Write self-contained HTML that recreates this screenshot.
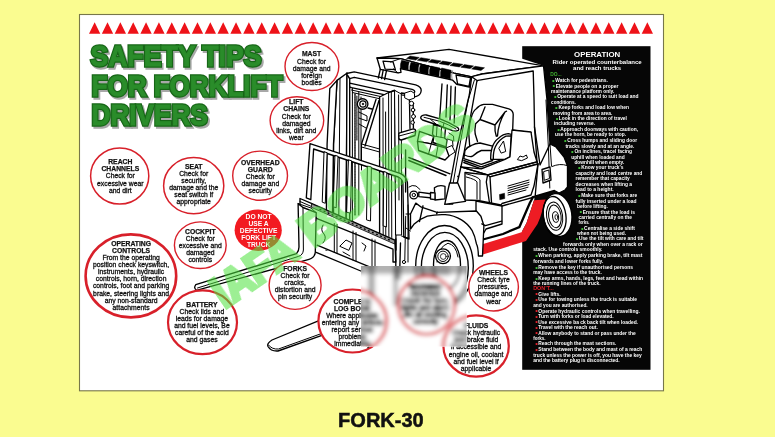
<!DOCTYPE html>
<html lang="en"><head><meta charset="utf-8"><title>Safety Tips for Forklift Drivers - FORK-30</title>
<style>
html,body{margin:0;padding:0;background:#fafc90;}
body{width:775px;height:437px;overflow:hidden;font-family:"Liberation Sans", Arial, sans-serif;}
svg{display:block;will-change:transform;filter:blur(0.4px)}
text{font-family:"Liberation Sans", Arial, sans-serif;}
.ct{font-size:6.8px;text-anchor:middle;fill:#111;stroke:#111;stroke-width:0.3px}
.cb{font-weight:bold;stroke-width:0.25px}
.ring{fill:#fff;stroke:#d8202a;}
.pt{font-size:5.3px;font-weight:bold;fill:#fff}
.ph{font-weight:bold;fill:#fff}
.ttl{font-weight:bold;font-size:29px;fill:#176617;stroke:#176617;stroke-width:3.4px;stroke-linejoin:miter;stroke-miterlimit:3}
.ttls{font-weight:bold;font-size:29px;fill:#a8a8a8;stroke:#a8a8a8;stroke-width:3.4px;stroke-linejoin:miter;stroke-miterlimit:3}
.ttlh{font-weight:bold;font-size:29px;fill:#2a8c2a;stroke:#2a8c2a;stroke-width:0.9px}
.fk{fill:none;stroke:#000;stroke-width:1.35;stroke-linejoin:round;stroke-linecap:round}
.fw{fill:#fff;stroke:#000;stroke-width:1.35;stroke-linejoin:round;stroke-linecap:round}
.fn{fill:#fff;stroke:none}
.th{stroke-width:1.0}
.bk{fill:#000;stroke:#000;stroke-width:0.5;stroke-linejoin:round}
.rd{fill:#ee1c24;stroke:none}
</style></head><body>
<svg width="775" height="437" viewBox="0 0 775 437">
<defs><filter id="blur" x="-10%" y="-10%" width="120%" height="120%"><feGaussianBlur stdDeviation="2.0"/><feComponentTransfer><feFuncR type="linear" slope="1.3" intercept="-0.3"/><feFuncG type="linear" slope="1.3" intercept="-0.3"/><feFuncB type="linear" slope="1.3" intercept="-0.3"/></feComponentTransfer></filter><clipPath id="blurclip"><rect x="361" y="266" width="105.6" height="80.6"/></clipPath></defs>
<rect x="0" y="0" width="775" height="437" fill="#fafc90"/>
<rect x="79.5" y="14.5" width="584" height="376.3" fill="#ffffff" stroke="#77774a" stroke-width="1.1"/>
<path d="M89.00 33.8L94.65 22.2L100.30 33.8ZM101.85 33.8L107.50 22.2L113.15 33.8ZM114.71 33.8L120.36 22.2L126.01 33.8ZM127.56 33.8L133.21 22.2L138.86 33.8ZM140.41 33.8L146.06 22.2L151.71 33.8ZM153.27 33.8L158.92 22.2L164.57 33.8ZM166.12 33.8L171.77 22.2L177.42 33.8ZM178.97 33.8L184.62 22.2L190.27 33.8ZM191.83 33.8L197.48 22.2L203.13 33.8ZM204.68 33.8L210.33 22.2L215.98 33.8ZM217.53 33.8L223.18 22.2L228.83 33.8ZM230.39 33.8L236.04 22.2L241.69 33.8ZM243.24 33.8L248.89 22.2L254.54 33.8ZM256.10 33.8L261.75 22.2L267.40 33.8ZM268.95 33.8L274.60 22.2L280.25 33.8ZM281.80 33.8L287.45 22.2L293.10 33.8ZM294.66 33.8L300.31 22.2L305.96 33.8ZM307.51 33.8L313.16 22.2L318.81 33.8ZM320.36 33.8L326.01 22.2L331.66 33.8ZM333.22 33.8L338.87 22.2L344.52 33.8ZM346.07 33.8L351.72 22.2L357.37 33.8ZM358.92 33.8L364.57 22.2L370.22 33.8ZM371.78 33.8L377.43 22.2L383.08 33.8ZM384.63 33.8L390.28 22.2L395.93 33.8ZM397.48 33.8L403.13 22.2L408.78 33.8ZM410.34 33.8L415.99 22.2L421.64 33.8ZM423.19 33.8L428.84 22.2L434.49 33.8ZM436.04 33.8L441.69 22.2L447.34 33.8ZM448.90 33.8L454.55 22.2L460.20 33.8ZM461.75 33.8L467.40 22.2L473.05 33.8ZM474.60 33.8L480.25 22.2L485.90 33.8ZM487.46 33.8L493.11 22.2L498.76 33.8ZM500.31 33.8L505.96 22.2L511.61 33.8ZM513.17 33.8L518.82 22.2L524.47 33.8ZM526.02 33.8L531.67 22.2L537.32 33.8ZM538.87 33.8L544.52 22.2L550.17 33.8ZM551.73 33.8L557.38 22.2L563.03 33.8ZM564.58 33.8L570.23 22.2L575.88 33.8ZM577.43 33.8L583.08 22.2L588.73 33.8ZM590.29 33.8L595.94 22.2L601.59 33.8ZM603.14 33.8L608.79 22.2L614.44 33.8ZM615.99 33.8L621.64 22.2L627.29 33.8ZM628.85 33.8L634.50 22.2L640.15 33.8ZM641.70 33.8L647.35 22.2L653.00 33.8Z" fill="#ee1218"/>
<rect x="522.2" y="46.2" width="128.3" height="323.6" fill="#060606"/>
<!-- ================= FORKLIFT LINE ART ================= -->
<g id="forklift">
<!-- white silhouette over black panel -->
<path class="fn" d="M520 58 L543.5 65.8 L547 100 L548.7 127 L550 144 L556 147 L564 157 L567.5 166 L567.5 187 L565 190 L559 193 L554.4 190.5 L535.5 196 L534 200.2 L526.5 223 L521.5 232.2 L520 234 Z"/>
<!-- ===== overhead guard ===== -->
<g id="guard">
<path class="fw" d="M377 58 L449 49.3 L543.5 65.8 L482 74 L472 76.8 L454 73.2 L400.5 58.6 Z"/>
<!-- side rail -->
<path class="fw" d="M482 74 L543.5 65.8 L547 100 L548.7 127 L550 144 L540 165 L534.5 127 L534 98 L533.2 71 L478 80.3 L473 83 L471.7 76.7 Z"/>
<!-- front band -->
<path class="fw" d="M377 58 L400.5 58.6 L454 73.2 L470.5 76.7 L469.3 87.2 L456.6 84.3 L452.5 80 L400.4 68.6 L401 72.3 L397.9 72.9 L380.3 69.3 Z"/>
<!-- left lamp -->
<path class="fw" style="stroke-width:1.3" d="M383 61.2 L393 61.8 L395.4 69.6 L385.2 69.2 Z"/>
<path class="fk th" d="M390.6 62 L400.5 58.6 M393.2 68.7 L397.9 72.9"/>
<!-- right lamp -->
<path class="fw" style="stroke-width:1.3" d="M456 75 L470.5 77.6 L469 86.3 L457.6 83.8 Z"/>
<!-- louvers -->
<path class="bk" d="M401.6 60.2 Q400 64 400.4 68.4 L408.2 69.9 Q408 65 409.2 61.9 Z"/>
<path class="bk" d="M411 62.2 Q409.4 66 409.8 70.4 L418.2 72.1 Q418 67 419.2 63.9 Z"/>
<path class="bk" d="M420.6 64.2 Q419 68 419.6 72.5 L428.2 74.4 Q428 69 429.2 65.8 Z"/>
<path class="bk" d="M430.6 66 Q429 70 429.6 74.7 L439 76.6 Q439 71.5 440 68 Z"/>
<path class="bk" d="M441.6 68 Q440 72 440.6 77 L450.3 79 Q450.2 74 451.2 70.3 Z"/>
<path class="fk th" style="stroke:#888" d="M452.5 70.8 Q451 75 452 79.6"/>
<!-- top grille -->
<path class="bk" d="M410.0 56.0 L419.3 57.5 L415.8 60.1 L406.5 58.6 Z M420.9 57.7 L430.2 59.2 L426.7 61.8 L417.4 60.3 Z M431.7 59.4 L441.1 60.9 L437.6 63.5 L428.2 62.0 Z M442.6 61.1 L451.9 62.6 L448.4 65.2 L439.1 63.7 Z M453.4 62.9 L462.8 64.3 L459.3 66.9 L449.9 65.5 Z M464.3 64.6 L473.6 66.0 L470.1 68.6 L460.8 67.2 Z M475.1 66.3 L484.5 67.8 L481.0 70.4 L471.6 68.9 Z"/>
</g>

<!-- ===== mast ===== -->
<g id="mast">
<!-- left outer faces -->
<path class="fw" d="M337 80.4 L346.5 73.5 L347 73.1 L346 250 L333.5 250 L333.5 144 Z"/>
<path class="fw" d="M329.8 88.5 L337 80.4 L333.5 144 L332 250 L326 250 L327.1 144 Z"/>
<path class="fk th" d="M340 79 L338.5 250"/>
<!-- front face of left upright -->
<path class="fw" d="M347 73.1 L349.7 78.6 L349.7 250 L346 250 Z"/>
<!-- inner left channel + chain -->
<path class="fk th" d="M352.4 88 L352.4 250 M358.8 92 L358.8 215 M361 97 L361 160"/>
<path class="fk" style="stroke-width:1.4;stroke-dasharray:0.9 0.7" d="M355 94 L355 215"/>
<path class="fk" style="stroke-width:1.1;stroke-dasharray:0.8 0.8" d="M356.9 96 L356.9 140"/>
<!-- top tube -->
<path class="fw" d="M346.5 73.5 L354.2 71.9 L415.7 84.9 Q421.6 87 421.2 90.8 Q420.6 95.6 415.7 96.6 L401.3 94.8 L401.3 93 L410 94.2 Q413.6 94 414.5 92.5 Q415.5 90.5 412.1 89.4 L354.2 77.3 L349.7 78.6 Z"/>
<!-- crossbar under top tube -->
<path class="fw" d="M349.7 83.1 L390.4 92.1 L394 90.3 L394 93 L388.6 95.7 L351.5 87.6 L349.7 87 Z"/>
<path class="fk th" d="M351.5 90 L380 96.4 M352.4 92.5 L379 98.6"/>
<!-- pulley -->
<circle class="fw" cx="362.6" cy="104" r="5.3"/>
<circle class="fk" cx="362.9" cy="104" r="3.1" style="stroke-width:1.2"/>
<circle class="bk" cx="363" cy="104" r="0.9"/>
<!-- diagonal brace -->
<path class="fk" d="M376 99.5 L361.5 144 M379 100.5 L365 146 M368 108 L372 109"/>
<path class="fk th" d="M358.8 112 L367 116 L367 121 L358.8 118 M359 124 L366 128 M361.5 144 L379.6 149 M361.5 147 L379.6 152 M361.5 144 L361.5 170"/>
<!-- right upright -->
<path class="fw" d="M379.6 97 L388.6 92.5 L394.9 90.5 L396 250 L379.6 250 Z"/>
<path class="fk th" d="M388.6 93 L388.9 250 M391.3 92 L391.8 250 M383 98 L383.2 250 M385.6 112 L385.8 250"/>
<path class="fw th" d="M394.9 90.5 L401.3 94 L401.6 235 L396 235 Z"/>
<path class="fk th" d="M398.6 95 L399 200"/>
</g>
<!-- ===== load backrest ===== -->
<g id="backrest">
<path class="fw" d="M306.3 197.9 L310 143.6 L400 173.3 Q406 175.8 407.4 182.4 L409 239 L403.8 237 L402.9 183.3 Q402.5 178.8 398.3 177 L313.6 149 L310.8 199.7 Z"/>
<g class="fw th">
<path d="M324.4 151.8 L327.1 152.7 L325.3 203.3 L322.6 202.3 Z"/>
<path d="M335.3 155.4 L338 156.3 L336.2 207.8 L333.5 206.9 Z"/>
<path d="M348.8 159.9 L351.5 160.8 L350.6 213.2 L347 212.3 Z"/>
<path d="M367.8 166.2 L371.4 167.1 L370.5 221 L366.9 220 Z"/>
<path d="M384.1 171.6 L386.8 172.5 L386.4 227 L383.5 226 Z"/>
</g>
</g>
<!-- ===== carriage ===== -->
<g id="carriage">
<path class="fn" d="M316.2 212.7 L394.9 238.9 L395.8 279 L369.6 268 L317.1 246.2 Z"/>
<path class="fn" d="M300 250 L395 262 L395 285 L300 285 Z"/>
<path class="fw" d="M300 198.5 L310.8 203.2 L394.9 240.2 L395.8 262 L393 262 L393 249.2 L317.1 218.6 L310.8 213.3 L300 208.5 Z"/>
<path d="M311.5 203.8 L394.6 240.4 L394.6 244 L311.5 207.4 Z" fill="#9c9c9c" stroke="#000" stroke-width="0.8"/>
<path class="fk th" d="M300 201.5 L310.8 206.2"/>
<path class="fk" style="stroke-width:1.3;stroke-dasharray:1 3.4" d="M320 209.4 L392 241.1"/>
<!-- verticals of carriage -->
<path class="fk th" d="M334.3 223.5 L334.3 252.4 M337 224.4 L337 253.3 M353 231 L353 260 M356 232.5 L356 261 M372 239 L372 266 M375 240 L375 266"/>
<!-- lower bar -->
<path class="fk" d="M317.1 245.2 L369.6 266.9 M316.2 252.4 L362 271.5 M395.8 238.9 L395.8 279 M400.5 243 L399.5 279"/>
<!-- small mechanisms -->
<path class="fk th" d="M340 246 L346 240 L352 243 L349 250 Z M343 252 L350 256 M362 243 L366 246 L364 251 M323 225 Q320 230 324 234 Q327 238 323 243"/>
<!-- hose -->
<path class="fk th" d="M405.7 216.3 L404.8 259.7"/>
<circle class="fk th" cx="404" cy="262" r="1.6"/>
</g>
<!-- ===== forks ===== -->
<g id="forks">
<!-- left fork shank -->
<path class="fw" d="M298.1 203.6 L303 207.5 L316.2 212.7 L315.3 252.4 Q314.5 258 309 259.3 L196.5 290.3 Q193.3 288 195.8 284.6 L296.5 253.6 Q299 251 299 247 Z"/>
<path class="fk th" d="M303 207.5 L303.4 250 Q303 255 298.5 256.4 L197.5 288 M298.1 203.6 L311 208 L316.2 212.7"/>
<!-- right fork blade -->
<path class="fw" d="M322 319.4 L272 340 Q266.5 343.5 268 346.5 Q271 351.5 278 351 L324 334.6 Z"/>
<path class="fk th" d="M268.5 345 Q272 349.6 278.5 349 L323 333"/>
</g>

<!-- ===== cab interior ===== -->
<g id="cab">
<!-- left-front legs of guard -->
<path class="fk" d="M380.3 69.3 L378.3 78 M386.5 70.6 L384.6 79.5 M383.2 70 L381.6 78.6"/>
<!-- rear-left leg -->
<path class="fk" d="M442 84 L439.7 118 M447.3 85 L446 117 M455.4 87 L454.2 123 M451 86.2 L450 120"/>
<!-- hood/ledge behind seat -->
<path class="fk th" d="M513.2 130 L531.3 132.5 M513.2 133.6 L531.3 137 M512.6 138 L531 143 M512 141 L531 146.4 M511.5 146.5 L532 152"/>
<!-- seat backrest -->
<path class="fw" d="M468.8 134 Q469.5 122 471.3 117.5 Q473 111 476.3 108.8 Q479.5 105 483.8 104.4 L492.5 104.4 L508.8 108.8 Q513.5 110.5 513.2 115 L512.6 132.5 L510 152 L470 150 Z"/>
<path class="fk" d="M485 107 L480 119.5 L475.6 123.8 Q474.5 130 475.2 134 L477.5 141.5 M480 119.5 L495 125 L505 112 L506.5 111.2 M495 125 Q494.5 131 496.3 136.3 M505 112 Q498 124 497.5 136"/>
<!-- seat cushion -->
<path class="fw" d="M465 150.5 Q467 147 471.3 145.5 Q475.5 143.2 480 143 L492.6 146.1 L492.6 160.5 L481.3 164.3 L463.8 158.7 Z"/>
<path class="fk" d="M464.4 155 Q470 157.5 472.5 156.2 Q477 152 481.3 150.5 L492.5 150.5"/>
<path class="fk" d="M463.8 160.5 L481.3 166.8 L507.6 157.4 M463.8 162.5 L481.3 168.8 L507 159.8"/>
<!-- armrest -->
<path class="fw" d="M490.7 159.3 Q490.5 153 492 148 Q494 141.5 498.8 138 Q503 134 508.2 133.6 L511.3 134.3 L510 156.8 L505 159.3 Z"/>
<path class="fk" d="M493.3 158.8 Q493.2 151 495.5 146.5 Q499 139.5 506 136.2 L510.9 136"/>
<path class="fk th" d="M499 148 L503.5 141 L505.7 151.5 L501.5 153 Z"/>
<!-- steering wheel -->
<path class="fw" d="M420.7 117.2 Q422 114.6 426.3 115 L440 118.8 Q450 122.5 457.6 127.5 Q459.5 129.4 458.2 130.4 Q456 131.6 452.6 130.7 L437.6 125 L422.5 120 Q420.3 118.8 420.7 117.2 Z"/>
<path class="fk th" d="M424 117.3 L439.5 121.2 Q449 124.6 456 129 M430.5 119.3 L436 124 M444 123 L443 127"/>
<!-- column + dash -->
<path class="fw" d="M433.5 124 L445.5 128.4 L444.6 138 L447 140 L446 147 L433 142.5 L433.8 136 L432.5 134 Z"/>
<path class="fk th" d="M433.8 136 L444.6 138 M437 126 L436.5 135.5 M441.5 127.4 L441 137"/>
<path class="fw" d="M419.5 131.3 L433.8 136.3 L431.3 143.8 L417.5 141.3 Z"/>
<path class="fw" d="M417.5 141.3 L431.3 143.8 L446 148 L449 156 L445 160 L418.6 150.5 Z"/>
<path class="fk th" d="M431.3 143.8 L428.5 154 M438 146 L436 156.5 M446 148 L452 145.5 L455 152 L449 156"/>
<path class="fk th" d="M447.5 139 L452.5 140.5 L453 146 M449 133 L453.5 136 L453.8 141"/>
<!-- mirror box and post on mast side -->
<path class="fw" d="M398.8 134.3 Q398.5 133 400.5 132.6 L413.2 128.8 Q415.7 128.8 415.7 131.3 L415 135.5 L401.3 140 Q398.8 140 398.8 137.5 Z"/>
<path class="fk th" d="M399 136 L414.8 131.8"/>
<path class="fk" d="M409.4 97 L410 128.5 M413.2 104 L413.4 128"/>
<path class="fw th" d="M405 93 L411 91 L414.5 93.5 L414.5 98 L409 100 L405 98 Z"/>
<circle class="fw th" cx="411.5" cy="103.5" r="2.2"/>
<circle class="fw th" cx="413" cy="110" r="1.8"/>
<circle class="fw th" cx="413.5" cy="116.5" r="2"/>
<circle class="fw th" cx="412.6" cy="122.5" r="1.8"/>
<!-- floor/dash line -->
<path class="fk" d="M405.6 150 L405.6 192 M408.8 157.5 L450 173.8 M408.8 160.5 L446 175.5"/>
<!-- front-right pillar (diagonal) -->
<path class="fw" d="M471.7 76.7 L477 80.5 L463.8 154 L452.6 204 L446.3 204 L456.3 150 L469.3 95 Z"/>
<path class="fk th" d="M474.4 80 L468.2 100 L458.6 152 L449.5 204"/>
<path class="fk" style="stroke-width:1;stroke-dasharray:0.8 6" d="M457.8 176 L454 197"/>
<!-- tilt cylinder -->
<path class="fw" d="M434.4 187.8 Q439 184.5 445 186.3 L445 198.8 L435 200 Z"/>
<path class="fw" d="M418.8 192.2 L432.5 194 L432.5 198 L418.8 196.6 Z"/>
<circle class="fw" cx="413.8" cy="195" r="3.9"/>
<circle class="fk th" cx="413.8" cy="195" r="1.7"/>
<path class="fw" d="M430.5 192.5 L435 192.8 L435 199.6 L430.5 199 Z"/>
<path class="fk th" d="M409 187 Q412 184.5 416 186 L420 189.5"/>
</g>

<!-- ===== body ===== -->
<g id="body">
<!-- hood top -->
<path class="fw" d="M460.7 166.8 L487.6 174.9 L537 161.8 L534 152 L531 132 L512 130 L510 156.8 L505 159.3 L481.3 168.8 Z"/>
<path class="fk" d="M460.7 166.8 L487.6 174.9 L537 161.8 M490 176.8 L538 164"/>
<path class="fk th" d="M517.6 159.3 L520 156 L523 157 L526.4 155 L527.5 158 L522 160.5 Z"/>
<!-- hood side + front -->
<path class="fw" d="M487.6 174.9 L490 176.8 L538 164 L534 186 L531 195 L502 203.5 L501 205 L478 200.5 L465 200 L465 172.5 Z"/>
<path class="fk" d="M487.6 174.9 L486.3 182 L489.5 203 M490 176.8 L491.5 202.5"/>
<path class="fk th" d="M466.3 173.8 Q479 177 480 180 L480 200 M466.3 177 Q476 179.5 477 182 L477 199"/>
<!-- vents -->
<path class="fk th" d="M508 186 L529 180 M508 188.3 L529 182.3 M508 190.6 L529 184.6 M508 192.9 L528 187.2 M508 195 L526 190"/>
<path class="bk" d="M499.5 194.5 L504.5 193.2 L504.8 198.5 L499.8 199.8 Z"/>
<!-- rear pillar lower + counterweight -->
<path class="fk" d="M534.5 127 L537 161.8 L538 164 L535 198 M550 144 L556 147 L564 157 L567.5 166 L567.5 187 L565 190 L559 193 L554.4 190.5 L532.2 197"/>
<path class="fk th" d="M550 144 L551.5 166 M546 100 L548.5 150 L549.8 188 M552 166.5 Q560 163 567 165.5"/>
<path class="fw" d="M542 169.5 L550 167 L551 180 L543 183 Z"/>
<path class="fk th" d="M544 171.5 L548.8 170 L549.5 178.5 L544.6 180.2 Z"/>
<!-- lower body -->
<path class="fw" d="M476 201 L502 206 L502 224 L486 229 L480.6 238.5 L476 236 Z"/>
<path class="fk" d="M502 206 L534.5 197"/>
<!-- stripes -->
<path d="M532.8 197.5 L529.8 203 L519.4 227 L503 234 L481 240" fill="none" stroke="#000" stroke-width="2.3" stroke-linejoin="miter"/>
<path class="rd" d="M534 200.2 L545.8 199.6 L540 218 L537.5 224 L526 241 L483 254.4 L481.6 244.6 L521.5 232.2 L526.5 223 Z"/>
</g>
<!-- ===== rear wheel ===== -->
<g id="rwheel">
<ellipse class="fw" cx="557.6" cy="215" rx="14.2" ry="21.6" transform="rotate(-8 557.6 215)"/>
<ellipse class="fk" cx="554.6" cy="216" rx="11.3" ry="19.6" transform="rotate(-8 554.6 216)"/>
<ellipse class="fk th" cx="554.6" cy="216.2" rx="8" ry="14.2" transform="rotate(-8 554.6 216.2)"/>
<ellipse class="fk th" cx="554.9" cy="216.4" rx="6.2" ry="11.4" transform="rotate(-8 554.9 216.4)"/>
<ellipse class="fk th" cx="555.6" cy="217" rx="3" ry="5.4" transform="rotate(-8 555.6 217)"/>
<ellipse class="fk th" cx="556.4" cy="217.2" rx="1.4" ry="2.6" transform="rotate(-8 556.4 217.2)" style="stroke-width:0.8"/>
</g>

<!-- ===== front wheel + fender ===== -->
<g id="fwheel">
<!-- tire tread (outer) -->
<ellipse class="fw" cx="444.5" cy="266" rx="28.8" ry="40.5"/>
<!-- tire face -->
<ellipse class="fw" cx="444.8" cy="268" rx="23.5" ry="35.7"/>
<ellipse class="fk" cx="447" cy="264.5" rx="13.5" ry="24"/>
<path class="fk th" d="M437 262 Q438 247 448 243.2 Q456 245 458 257"/>
<circle class="fw" cx="443" cy="256.3" r="7.4"/>
<circle class="fk th" cx="443" cy="256.3" r="5.2"/>
<circle class="fk th" cx="443.3" cy="256.5" r="2.9" style="stroke-width:0.8"/>
<!-- fender -->
<path class="fw" d="M415.8 203.1 L421.4 207.2 L437 212.4 L476.4 211 L480.9 216.2 L483.9 225.8 L482.5 256 L478.4 256 Q478.2 247 476.4 243.7 Q475 236 472 230.3 Q467.5 223.5 461.5 219.9 Q454 215.4 445.2 214.7 Q435.5 214.3 427.3 216.2 Q419.5 219 413.9 224.3 L410.5 229 L410.5 214 Z"/>
<path class="fk" d="M437.5 212.1 L436.6 213.9 M423 205.8 L419.5 221.5 M481.8 223.9 L485.4 225.7 L501.7 221.2"/>
<!-- pillar base -->
<path class="fw" d="M449.6 183 L444.7 204.3 L465.5 201.3 L457.8 183 Z"/>
<!-- chassis bits between mast and wheel -->
<path class="fk th" d="M408 205 L408 262 M410.5 214 L406 214 M406 228 L410.5 231 M401.5 236 L408 238"/>
</g>
</g>

<text class="ttls" transform="translate(92.10 67.50) scale(0.918 1)" x="0" y="0">SAFETY TIPS</text>
<text class="ttls" transform="translate(93.20 97.50) scale(0.898 1)" x="0" y="0">FOR FORKLIFT</text>
<text class="ttls" transform="translate(93.20 127.10) scale(0.903 1)" x="0" y="0">DRIVERS</text>
<text class="ttl" transform="translate(90.40 65.80) scale(0.918 1)" x="0" y="0">SAFETY TIPS</text>
<text class="ttl" transform="translate(91.50 95.80) scale(0.898 1)" x="0" y="0">FOR FORKLIFT</text>
<text class="ttl" transform="translate(91.50 125.40) scale(0.903 1)" x="0" y="0">DRIVERS</text>
<text class="ttlh" transform="translate(90.40 65.80) scale(0.918 1)" x="0" y="0">SAFETY TIPS</text>
<text class="ttlh" transform="translate(91.50 95.80) scale(0.898 1)" x="0" y="0">FOR FORKLIFT</text>
<text class="ttlh" transform="translate(91.50 125.40) scale(0.903 1)" x="0" y="0">DRIVERS</text>
<g id="c311">
<ellipse class="ring" cx="311.9" cy="66.5" rx="26.9" ry="24.0" stroke-width="1.4"/>
<text class="ct cb" x="311.6" y="56.0">MAST</text>
<text class="ct" x="311.6" y="64.0">Check for</text>
<text class="ct" x="311.6" y="71.0">damage and</text>
<text class="ct" x="311.6" y="78.0">foreign</text>
<text class="ct" x="311.6" y="85.0">bodies</text>
</g>
<g id="c296">
<ellipse class="ring" cx="296.9" cy="120.6" rx="26.8" ry="23.9" stroke-width="1.4"/>
<text class="ct cb" x="296.3" y="104.0">LIFT</text>
<text class="ct cb" x="296.3" y="111.0">CHAINS</text>
<text class="ct" x="296.3" y="119.0">Check for</text>
<text class="ct" x="296.3" y="126.0">damaged</text>
<text class="ct" x="296.3" y="133.0">links, dirt and</text>
<text class="ct" x="296.3" y="140.0">wear</text>
</g>
<g id="c119">
<ellipse class="ring" cx="119.7" cy="176.0" rx="29.1" ry="28.1" stroke-width="1.5"/>
<text class="ct cb" x="120.3" y="164.0">REACH</text>
<text class="ct cb" x="120.3" y="171.0">CHANNELS</text>
<text class="ct" x="120.3" y="178.0">Check for</text>
<text class="ct" x="120.3" y="186.0">excessive wear</text>
<text class="ct" x="120.3" y="193.0">and dirt</text>
</g>
<g id="c193">
<ellipse class="ring" cx="193.7" cy="185.7" rx="30.1" ry="28.1" stroke-width="1.5"/>
<text class="ct cb" x="193.7" y="169.0">SEAT</text>
<text class="ct" x="193.7" y="176.0">Check for</text>
<text class="ct" x="193.7" y="183.0">security,</text>
<text class="ct" x="193.7" y="190.0">damage and the</text>
<text class="ct" x="193.7" y="197.0">seat switch if</text>
<text class="ct" x="193.7" y="204.0">appropriate</text>
</g>
<g id="c260">
<ellipse class="ring" cx="260.1" cy="175.7" rx="27.4" ry="24.6" stroke-width="1.4"/>
<text class="ct cb" x="260.3" y="165.0">OVERHEAD</text>
<text class="ct cb" x="260.3" y="172.0">GUARD</text>
<text class="ct" x="260.3" y="179.0">Check for</text>
<text class="ct" x="260.3" y="186.0">damage and</text>
<text class="ct" x="260.3" y="193.0">security</text>
</g>
<g id="c130">
<ellipse class="ring" cx="130.9" cy="275.9" rx="45.3" ry="41.5" stroke-width="2.6"/>
<text class="ct cb" x="131.1" y="246.0">OPERATING</text>
<text class="ct cb" x="131.1" y="253.0">CONTROLS</text>
<text class="ct" x="131.1" y="260.0">From the operating</text>
<text class="ct" x="131.1" y="267.0">position check keyswitch,</text>
<text class="ct" x="131.1" y="274.0">instruments, hydraulic</text>
<text class="ct" x="131.1" y="281.0">controls, horn, direction</text>
<text class="ct" x="131.1" y="288.0">controls, foot and parking</text>
<text class="ct" x="131.1" y="296.0">brake, steering lights and</text>
<text class="ct" x="131.1" y="303.0">any non-standard</text>
<text class="ct" x="131.1" y="310.0">attachments</text>
</g>
<g id="c200">
<ellipse class="ring" cx="200.3" cy="245.2" rx="25.9" ry="23.3" stroke-width="1.4"/>
<text class="ct cb" x="200.3" y="234.0">COCKPIT</text>
<text class="ct" x="200.3" y="241.0">Check for</text>
<text class="ct" x="200.3" y="248.0">excessive and</text>
<text class="ct" x="200.3" y="255.0">damaged</text>
<text class="ct" x="200.3" y="262.0">controls</text>
</g>
<g id="c202">
<ellipse class="ring" cx="202.5" cy="322.3" rx="34.5" ry="31.9" stroke-width="2.2"/>
<text class="ct cb" x="201.9" y="307.0">BATTERY</text>
<text class="ct" x="201.9" y="314.0">Check lids and</text>
<text class="ct" x="201.9" y="321.0">leads for damage</text>
<text class="ct" x="201.9" y="328.0">and fuel levels, Be</text>
<text class="ct" x="201.9" y="335.0">careful of the acid</text>
<text class="ct" x="201.9" y="342.0">and gases</text>
</g>
<g id="c295">
<ellipse class="ring" cx="295.1" cy="285.2" rx="26.0" ry="24.2" stroke-width="1.4"/>
<text class="ct cb" x="295.1" y="271.0">FORKS</text>
<text class="ct" x="295.1" y="278.0">Check for</text>
<text class="ct" x="295.1" y="285.0">cracks,</text>
<text class="ct" x="295.1" y="292.0">distortion and</text>
<text class="ct" x="295.1" y="299.0">pin security</text>
</g>
<g id="c352">
<ellipse class="ring" cx="352.5" cy="321.0" rx="34.1" ry="31.5" stroke-width="2.2"/>
<text class="ct cb" x="352.4" y="304.0">COMPLETE</text>
<text class="ct cb" x="352.4" y="311.0">LOG BOOK</text>
<text class="ct" x="352.4" y="318.0">Where applicable</text>
<text class="ct" x="352.4" y="325.0">entering any defects</text>
<text class="ct" x="352.4" y="332.0">report serious</text>
<text class="ct" x="352.4" y="339.0">problems</text>
<text class="ct" x="352.4" y="346.0">immediately</text>
</g>
<g id="c493">
<ellipse class="ring" cx="493.6" cy="287.1" rx="24.8" ry="23.9" stroke-width="1.4"/>
<text class="ct cb" x="493.5" y="275.0">WHEELS</text>
<text class="ct" x="493.5" y="282.0">Check tyre</text>
<text class="ct" x="493.5" y="289.0">pressures,</text>
<text class="ct" x="493.5" y="296.0">damage and</text>
<text class="ct" x="493.5" y="304.0">wear</text>
</g>
<g id="c476">
<ellipse class="ring" cx="476.1" cy="346.0" rx="32.7" ry="30.6" stroke-width="2.2"/>
<text class="ct cb" x="476.1" y="328.0">FLUIDS</text>
<text class="ct" x="476.1" y="335.0">Check hydraulic</text>
<text class="ct" x="476.1" y="342.0">and brake fluid</text>
<text class="ct" x="476.1" y="349.0">if accessible and</text>
<text class="ct" x="476.1" y="357.0">engine oil, coolant</text>
<text class="ct" x="476.1" y="364.0">and fuel level if</text>
<text class="ct" x="476.1" y="371.0">applicable</text>
</g>
<ellipse cx="258.2" cy="230.2" rx="23.6" ry="20.7" fill="#f21a21"/>
<text x="258.6" y="218.7" style="font-size:6.7px;font-weight:bold;fill:#fff;text-anchor:middle">DO NOT</text>
<text x="258.6" y="225.9" style="font-size:6.7px;font-weight:bold;fill:#fff;text-anchor:middle">USE A</text>
<text x="258.6" y="233.0" style="font-size:6.7px;font-weight:bold;fill:#fff;text-anchor:middle">DEFECTIVE</text>
<text x="258.6" y="240.0" style="font-size:6.7px;font-weight:bold;fill:#fff;text-anchor:middle">FORK LIFT</text>
<text x="258.6" y="247.0" style="font-size:6.7px;font-weight:bold;fill:#fff;text-anchor:middle">TRUCK</text>
<g opacity="0.56"><text transform="translate(224.4 309.0) rotate(-34.5) scale(0.900 1)" x="0" y="0" style="font-size:45px;font-weight:bold;fill:#4fe33f;stroke:#4fe33f;stroke-width:4px;stroke-linejoin:miter">IAFA</text><text transform="translate(313.4 247.8) rotate(-36.5) scale(1.050 1)" x="0" y="0" style="font-size:45px;font-weight:bold;fill:#4fe33f;stroke:#4fe33f;stroke-width:4px;stroke-linejoin:miter">BOARDS</text></g>
<rect x="361" y="266" width="105.6" height="80.6" fill="#fff"/>
<g clip-path="url(#blurclip)"><g filter="url(#blur)">
<rect x="340" y="250" width="150" height="120" fill="#fff"/>
<use href="#forklift"/>
<rect x="355" y="258" width="120" height="16" fill="#9a9a9a" opacity="0.55"/>
<rect x="368" y="266" width="7" height="62" fill="#8a8a8a" opacity="0.5"/>
<rect x="393" y="266" width="5" height="40" fill="#8a8a8a" opacity="0.45"/>
<rect x="420" y="266" width="30" height="10" fill="#8a8a8a" opacity="0.35"/>
<use href="#c352"/><use href="#c476"/>
<ellipse class="ring" cx="426.5" cy="305.3" rx="28.2" ry="29" stroke-width="2"/>
<text class="ct cb" x="425.5" y="288.5">WARNING</text>
<text class="ct cb" x="425.5" y="295.6">DEVICES</text>
<text class="ct" x="425.5" y="302.8">Check the horn,</text>
<text class="ct" x="425.5" y="309.9">lights and alarm</text>
<text class="ct" x="425.5" y="317.0">are all working</text>
<text class="ct" x="425.5" y="324.1">correctly</text>
</g></g>
<text class="ph" x="574.0" y="56.8" style="font-size:6.4px" textLength="46.3" lengthAdjust="spacingAndGlyphs">OPERATION</text>
<text class="ph" x="552.6" y="63.8" style="font-size:4.5px" textLength="89.1" lengthAdjust="spacingAndGlyphs">Rider operated counterbalance</text>
<text class="ph" x="573.1" y="70.2" style="font-size:4.5px" textLength="48.1" lengthAdjust="spacingAndGlyphs">and reach trucks</text>
<text x="550.2" y="76.0" style="font-size:4.6px;font-weight:bold;fill:#3fae2f" textLength="11.5" lengthAdjust="spacingAndGlyphs">DO...</text>
<text x="552.1" y="82.7" style="font-size:7.5px;font-weight:bold;fill:#43c23a">•</text>
<text class="pt" x="555.3" y="82.0" textLength="52.5" lengthAdjust="spacingAndGlyphs">Watch for pedestrians.</text>
<text x="552.5" y="88.2" style="font-size:7.5px;font-weight:bold;fill:#43c23a">•</text>
<text class="pt" x="555.7" y="87.5" textLength="62.6" lengthAdjust="spacingAndGlyphs">Elevate people on a proper</text>
<text class="pt" x="551.1" y="93.0" textLength="63.2" lengthAdjust="spacingAndGlyphs">maintenance platform only.</text>
<text x="553.9" y="99.1" style="font-size:7.5px;font-weight:bold;fill:#43c23a">•</text>
<text class="pt" x="557.2" y="98.4" textLength="81.4" lengthAdjust="spacingAndGlyphs">Operate at a speed to suit load and</text>
<text class="pt" x="551.1" y="103.8" textLength="24.7" lengthAdjust="spacingAndGlyphs">conditions.</text>
<text x="555.1" y="110.0" style="font-size:7.5px;font-weight:bold;fill:#43c23a">•</text>
<text class="pt" x="558.4" y="109.3" textLength="70.5" lengthAdjust="spacingAndGlyphs">Keep forks and load low when</text>
<text class="pt" x="552.9" y="114.8" textLength="59.5" lengthAdjust="spacingAndGlyphs">moving from area to area.</text>
<text x="555.7" y="120.8" style="font-size:7.5px;font-weight:bold;fill:#43c23a">•</text>
<text class="pt" x="558.8" y="120.1" textLength="68.1" lengthAdjust="spacingAndGlyphs">Look in the direction of travel</text>
<text class="pt" x="553.9" y="125.4" textLength="41.1" lengthAdjust="spacingAndGlyphs">including reverse.</text>
<text x="557.2" y="131.7" style="font-size:7.5px;font-weight:bold;fill:#43c23a">•</text>
<text class="pt" x="560.3" y="131.0" textLength="77.7" lengthAdjust="spacingAndGlyphs">Approach doorways with caution,</text>
<text class="pt" x="555.1" y="136.4" textLength="71.0" lengthAdjust="spacingAndGlyphs">use the horn, be ready to stop.</text>
<text x="563.9" y="142.7" style="font-size:7.5px;font-weight:bold;fill:#43c23a">•</text>
<text class="pt" x="567.2" y="142.0" textLength="69.9" lengthAdjust="spacingAndGlyphs">Cross humps and sliding door</text>
<text class="pt" x="565.4" y="147.5" textLength="69.0" lengthAdjust="spacingAndGlyphs">tracks slowly and at an angle.</text>
<text x="570.9" y="153.7" style="font-size:7.5px;font-weight:bold;fill:#43c23a">•</text>
<text class="pt" x="574.4" y="153.0" textLength="57.6" lengthAdjust="spacingAndGlyphs">On inclines, tracel facing</text>
<text class="pt" x="571.2" y="158.5" textLength="53.5" lengthAdjust="spacingAndGlyphs">uphill when loaded and</text>
<text class="pt" x="574.4" y="163.9" textLength="49.9" lengthAdjust="spacingAndGlyphs">downhill when empty.</text>
<text x="578.0" y="170.1" style="font-size:7.5px;font-weight:bold;fill:#43c23a">•</text>
<text class="pt" x="581.3" y="169.4" textLength="42.1" lengthAdjust="spacingAndGlyphs">Know your truck’s</text>
<text class="pt" x="575.5" y="174.9" textLength="66.8" lengthAdjust="spacingAndGlyphs">capacity and load centre and</text>
<text class="pt" x="575.5" y="180.4" textLength="54.3" lengthAdjust="spacingAndGlyphs">remember that capacity</text>
<text class="pt" x="575.5" y="185.8" textLength="56.5" lengthAdjust="spacingAndGlyphs">decreases when lifting a</text>
<text class="pt" x="575.5" y="191.3" textLength="38.2" lengthAdjust="spacingAndGlyphs">load to a height.</text>
<text x="578.0" y="197.7" style="font-size:7.5px;font-weight:bold;fill:#43c23a">•</text>
<text class="pt" x="581.3" y="197.0" textLength="55.8" lengthAdjust="spacingAndGlyphs">Make sure that forks are</text>
<text class="pt" x="575.5" y="202.6" textLength="61.1" lengthAdjust="spacingAndGlyphs">fully inserted under a load</text>
<text class="pt" x="577.1" y="207.9" textLength="30.7" lengthAdjust="spacingAndGlyphs">before lifting.</text>
<text x="579.5" y="214.2" style="font-size:7.5px;font-weight:bold;fill:#43c23a">•</text>
<text class="pt" x="582.8" y="213.5" textLength="52.1" lengthAdjust="spacingAndGlyphs">Ensure that the load is</text>
<text class="pt" x="578.6" y="218.9" textLength="53.4" lengthAdjust="spacingAndGlyphs">carried centrally on the</text>
<text class="pt" x="578.6" y="224.3" textLength="10.9" lengthAdjust="spacingAndGlyphs">forks.</text>
<text x="581.0" y="230.5" style="font-size:7.5px;font-weight:bold;fill:#43c23a">•</text>
<text class="pt" x="584.1" y="229.8" textLength="50.8" lengthAdjust="spacingAndGlyphs">Centralise a side shift</text>
<text class="pt" x="577.1" y="235.0" textLength="49.0" lengthAdjust="spacingAndGlyphs">when not being used.</text>
<text x="575.8" y="241.1" style="font-size:7.5px;font-weight:bold;fill:#43c23a">•</text>
<text class="pt" x="578.9" y="240.4" textLength="64.6" lengthAdjust="spacingAndGlyphs">Use the tilt with care and tilt</text>
<text class="pt" x="563.0" y="245.9" textLength="79.6" lengthAdjust="spacingAndGlyphs">forwards only when over a rack or</text>
<text class="pt" x="533.2" y="251.3" textLength="69.2" lengthAdjust="spacingAndGlyphs">stack.  Use controls smoothly.</text>
<text x="535.2" y="258.1" style="font-size:7.5px;font-weight:bold;fill:#43c23a">•</text>
<text class="pt" x="538.3" y="257.4" textLength="104.0" lengthAdjust="spacingAndGlyphs">When parking, apply parking brake, tilt mast</text>
<text class="pt" x="533.2" y="263.0" textLength="70.1" lengthAdjust="spacingAndGlyphs">forwards and lower forks fully.</text>
<text x="535.2" y="269.5" style="font-size:7.5px;font-weight:bold;fill:#43c23a">•</text>
<text class="pt" x="538.3" y="268.8" textLength="94.8" lengthAdjust="spacingAndGlyphs">Remove the key if unauthorised persons</text>
<text class="pt" x="533.2" y="274.4" textLength="68.6" lengthAdjust="spacingAndGlyphs">may have access to the truck.</text>
<text x="535.2" y="280.6" style="font-size:7.5px;font-weight:bold;fill:#43c23a">•</text>
<text class="pt" x="538.3" y="279.9" textLength="104.7" lengthAdjust="spacingAndGlyphs">Keep arms, hands, legs, feet and head within</text>
<text class="pt" x="533.2" y="285.2" textLength="67.3" lengthAdjust="spacingAndGlyphs">the running lines of the truck.</text>
<text x="535.2" y="296.4" style="font-size:7.5px;font-weight:bold;fill:#e2202a">•</text>
<text class="pt" x="538.3" y="295.7" textLength="22.3" lengthAdjust="spacingAndGlyphs">Give lifts.</text>
<text x="535.2" y="301.9" style="font-size:7.5px;font-weight:bold;fill:#e2202a">•</text>
<text class="pt" x="538.3" y="301.2" textLength="98.8" lengthAdjust="spacingAndGlyphs">Use for towing unless the truck is suitable</text>
<text class="pt" x="533.2" y="307.0" textLength="54.5" lengthAdjust="spacingAndGlyphs">and you are authorised.</text>
<text x="535.2" y="313.3" style="font-size:7.5px;font-weight:bold;fill:#e2202a">•</text>
<text class="pt" x="538.3" y="312.6" textLength="101.6" lengthAdjust="spacingAndGlyphs">Operate hydraulic controls when travelling.</text>
<text x="535.2" y="318.7" style="font-size:7.5px;font-weight:bold;fill:#e2202a">•</text>
<text class="pt" x="538.3" y="318.0" textLength="75.4" lengthAdjust="spacingAndGlyphs">Turn with forks or load elevated.</text>
<text x="535.2" y="324.2" style="font-size:7.5px;font-weight:bold;fill:#e2202a">•</text>
<text class="pt" x="538.3" y="323.5" textLength="99.7" lengthAdjust="spacingAndGlyphs">Use excessive ba ck back tilt when loaded.</text>
<text x="535.2" y="329.7" style="font-size:7.5px;font-weight:bold;fill:#e2202a">•</text>
<text class="pt" x="538.3" y="329.0" textLength="59.5" lengthAdjust="spacingAndGlyphs">Travel with the reach out.</text>
<text x="535.2" y="335.2" style="font-size:7.5px;font-weight:bold;fill:#e2202a">•</text>
<text class="pt" x="538.3" y="334.5" textLength="97.4" lengthAdjust="spacingAndGlyphs">Allow anybody to stand or pass under the</text>
<text class="pt" x="533.2" y="339.7" textLength="12.4" lengthAdjust="spacingAndGlyphs">forks.</text>
<text x="535.2" y="345.8" style="font-size:7.5px;font-weight:bold;fill:#e2202a">•</text>
<text class="pt" x="538.3" y="345.1" textLength="78.1" lengthAdjust="spacingAndGlyphs">Reach through the mast sections.</text>
<text x="535.2" y="351.7" style="font-size:7.5px;font-weight:bold;fill:#e2202a">•</text>
<text class="pt" x="538.3" y="351.0" textLength="104.0" lengthAdjust="spacingAndGlyphs">Stand between the body and mast of a reach</text>
<text class="pt" x="533.2" y="356.5" textLength="108.5" lengthAdjust="spacingAndGlyphs">truck unless the power is off, you have the key</text>
<text class="pt" x="533.2" y="362.1" textLength="86.5" lengthAdjust="spacingAndGlyphs">and the battery plug is disconnected.</text>
<text x="533.2" y="290.2" style="font-size:4.6px;font-weight:bold;fill:#e2202a" textLength="20.7" lengthAdjust="spacingAndGlyphs">DON’T...</text>
<text x="380.9" y="426.9" style="font-size:20px;font-weight:bold;fill:#111;stroke:#111;stroke-width:0.5px;text-anchor:middle">FORK-30</text>
</svg></body></html>
